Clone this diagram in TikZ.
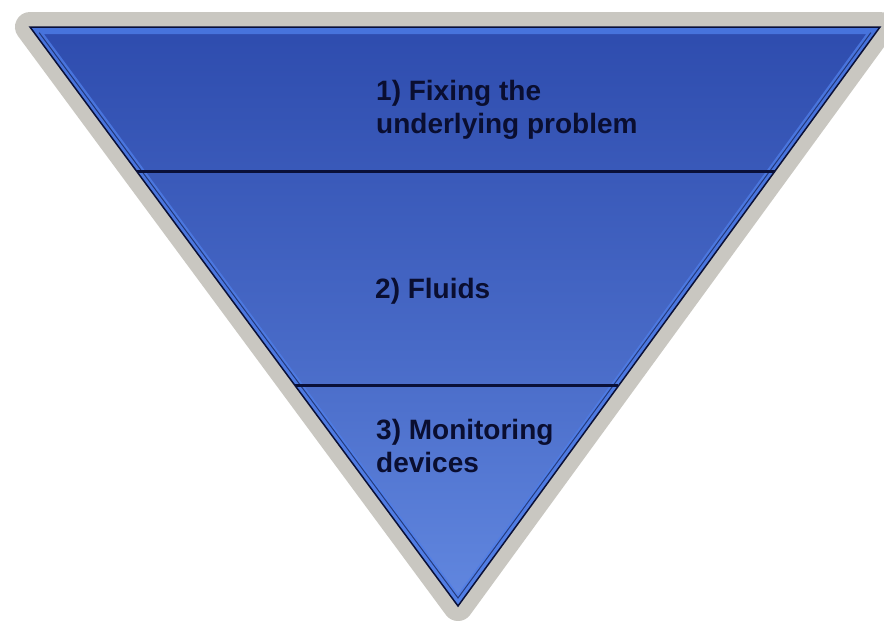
\documentclass[tikz,border=0pt]{standalone}
\usepackage{fontspec}
\setmainfont{Liberation Sans}
\usetikzlibrary{calc}
\definecolor{rimgray}{RGB}{201,199,193}
\definecolor{bandtop}{RGB}{46,76,174}
\definecolor{bandbot}{RGB}{98,136,224}
\definecolor{bevel}{RGB}{78,125,232}
\definecolor{edgenavy}{RGB}{10,16,56}
\definecolor{labelink}{RGB}{10,14,48}
\tikzset{
  rim/.style={draw=rimgray, line width=30pt, line join=round},
  divider/.style={draw=edgenavy, line width=3pt},
  label/.style={font=\bfseries\fontsize{28}{33}\selectfont, text=labelink, inner sep=0pt, anchor=base west},
}
\begin{document}
\begin{tikzpicture}[x=1pt,y=-1pt]
\useasboundingbox (0,0) rectangle (884,621);
\fill[white] (0,0) rectangle (884,621);
% corners of the inverted triangle
\coordinate (A) at (30,27);
\coordinate (B) at (880,27);
\coordinate (C) at (458,606);
% grey rounded rim
\path[rim] (A) -- (B) -- (C) -- cycle;
% blue body with vertical shading
\begin{scope}
  \clip (A) -- (B) -- (C) -- cycle;
  \shade[top color=bandtop, bottom color=bandbot, middle color=bandtop!55!bandbot]
    (0,27) rectangle (884,610);
  % light bevel along the edges
  \draw[bevel, line width=14pt, opacity=0.8, line join=miter] (A) -- (B) -- (C) -- cycle;
  \draw[edgenavy, line width=1pt, opacity=0.6] ($(A)!7pt!(C)+(5,0)$) -- ($(C)+(0,-8)$) -- ($(B)!7pt!(C)+(-5,0)$);
\end{scope}
\draw[edgenavy, line width=1.5pt, line join=miter] (A) -- (B) -- (C) -- cycle;
% horizontal dividers between the three layers
\coordinate (L1) at ($(A)!0.249!(C)$);
\coordinate (R1) at ($(B)!0.249!(C)$);
\coordinate (L2) at ($(A)!0.620!(C)$);
\coordinate (R2) at ($(B)!0.620!(C)$);
\draw[divider] (L1) -- (R1);
\draw[divider] (L2) -- (R2);
% layer labels
\node[label] (t1a) at (376,100) {1) Fixing the};
\node[label] (t1b) at (376,133) {underlying problem};
\node[label] (t2) at (375,298) {2) Fluids};
\node[label] (t3a) at (376,439) {3) Monitoring};
\node[label] (t3b) at (376,472) {devices};
\end{tikzpicture}
\end{document}
